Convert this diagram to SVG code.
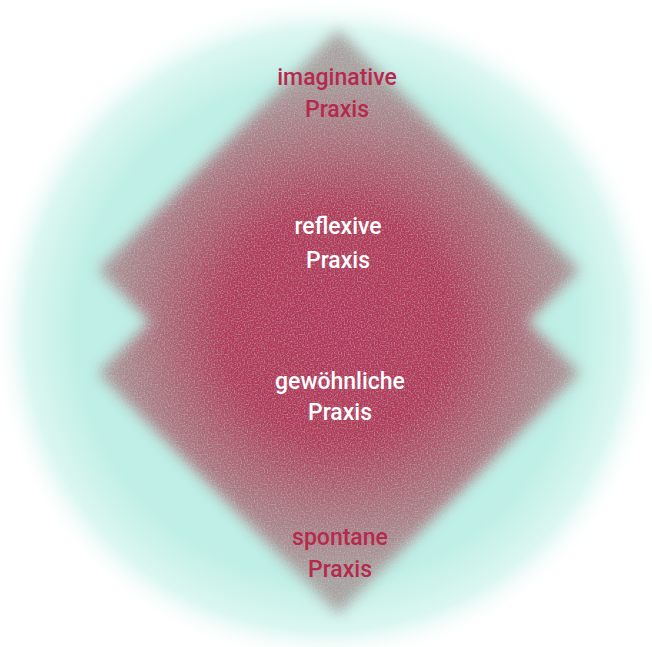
<svg xmlns="http://www.w3.org/2000/svg" width="652" height="647" viewBox="0 0 652 647">
  <defs>
    <radialGradient id="teal" cx="326" cy="330" r="335" gradientUnits="userSpaceOnUse">
      <stop offset="0" stop-color="#bdefe5"/>
      <stop offset="0.74" stop-color="#bfefe6"/>
      <stop offset="0.9" stop-color="#dcf7f1"/>
      <stop offset="1" stop-color="#ffffff" stop-opacity="0"/>
    </radialGradient>
    <radialGradient id="red" cx="338" cy="325" r="255" gradientUnits="userSpaceOnUse">
      <stop offset="0" stop-color="#b4345a"/>
      <stop offset="0.45" stop-color="#b23a58"/>
      <stop offset="0.75" stop-color="#ad7580"/>
      <stop offset="1" stop-color="#a9a0a0"/>
    </radialGradient>
    <filter id="grain" x="-10%" y="-10%" width="120%" height="120%" color-interpolation-filters="sRGB">
      <feGaussianBlur in="SourceGraphic" stdDeviation="7" result="b"/>
      <feTurbulence type="fractalNoise" baseFrequency="0.7" numOctaves="1" seed="4" result="n"/>
      <feColorMatrix in="n" type="matrix" values="0 0 0 0 0.74  0 0 0 0 0.82  0 0 0 0 0.8  1.4 0 0 0 -0.6" result="nc"/>
      <feComposite in="nc" in2="b" operator="atop"/>
    </filter>
    <style>
      .lbl { font-family: Roboto, "Noto Sans", "Liberation Sans", sans-serif; font-size: 23px; font-weight: 500; text-anchor: middle; }
      .dark { fill: #b52a4c; }
      .light { fill: #ffffff; }
    </style>
  </defs>
  <rect width="652" height="647" fill="#ffffff"/>
  <circle id="background-circle" cx="326" cy="330" r="335" fill="url(#teal)"/>
  <g id="diamonds" filter="url(#grain)">
    <polygon id="upper-diamond" points="338,30 580,270 338,510 98,270" fill="url(#red)"/>
    <polygon id="lower-diamond" points="338,135 580,373 338,614 98,373" fill="url(#red)"/>
  </g>
  <g id="connectors"/>
  <g id="imaginative">
    <text class="lbl dark" x="337" y="85">imaginative</text>
    <text class="lbl dark" x="337" y="117">Praxis</text>
  </g>
  <g id="reflexive">
    <text class="lbl light" x="338" y="234">reflexive</text>
    <text class="lbl light" x="338" y="268">Praxis</text>
  </g>
  <g id="gewoehnliche">
    <text class="lbl light" x="340" y="389">gewöhnliche</text>
    <text class="lbl light" x="340" y="420">Praxis</text>
  </g>
  <g id="spontane">
    <text class="lbl dark" x="340" y="545">spontane</text>
    <text class="lbl dark" x="340" y="577">Praxis</text>
  </g>
</svg>
